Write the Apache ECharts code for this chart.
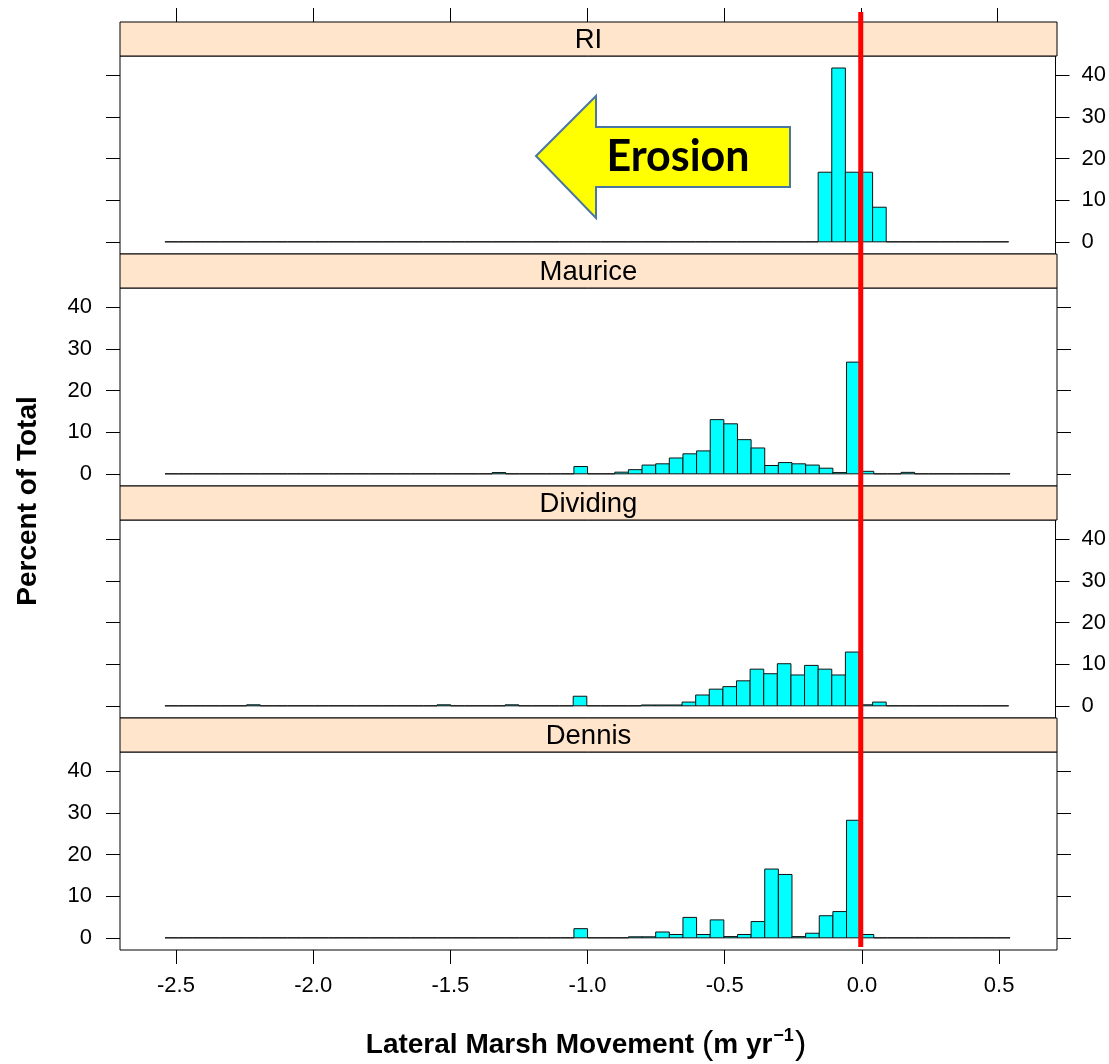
<!DOCTYPE html>
<html><head><meta charset="utf-8">
<script src="https://cdn.jsdelivr.net/npm/echarts@6/dist/echarts.min.js"></script>
<style>html,body{margin:0;padding:0;background:#fff}#c{width:1109px;height:1064px}</style>
</head><body><div id="c"></div>
<script>
// ---------------- data ----------------
const panelNames = ['RI', 'Maurice', 'Dividing', 'Dennis'];
// histogram breaks: 62 equal bins between breakMin and breakMax
const breakMin = -2.54;
const breakMax = 0.54;
const binCount = 62;
// percent of total in each bin (bin 0 .. bin 61)
const riPct = [
  0,0,0,0,0,0,0,0,0,0,
  0,0,0,0,0,0,0,0,0,0,
  0,0,0,0,0,0,0,0,0,0,
  0,0,0,0,0,0,0,0,0,0,
  0,0,0,0,0,0,0,0,16.7,41.7,
  16.7,16.7,8.3,0,0,0,0,0,0,0,
  0,0
];
const mauricePct = [
  0,0,0,0,0,0,0,0,0,0,
  0,0,0,0,0,0,0,0,0,0,
  0,0,0,0,0.3,0,0,0,0,0,
  1.75,0,0,0.4,1.0,2.1,2.4,3.8,4.8,5.5,
  13.0,12.0,8.2,6.2,2.0,2.7,2.4,2.1,1.35,0.3,
  26.8,0.6,0,0,0.35,0,0,0,0,0,
  0,0
];
const dividingPct = [
  0,0,0,0,0,0,0.25,0,0,0,
  0,0,0,0,0,0,0,0,0,0,
  0.25,0,0,0,0,0.25,0,0,0,0,
  2.3,0,0,0,0,0.2,0.2,0.2,0.9,2.6,
  4.0,4.6,6.0,8.8,7.7,10.1,7.4,9.7,8.8,7.4,
  12.9,0.25,0.9,0,0,0,0,0,0,0,
  0,0
];
const dennisPct = [
  0,0,0,0,0,0,0,0,0,0,
  0,0,0,0,0,0,0,0,0,0,
  0,0,0,0,0,0,0,0,0,0,
  2.2,0,0,0,0.25,0.25,1.4,0.8,4.9,0.8,
  4.3,0.3,0.8,3.9,16.5,15.2,0.3,1.1,5.3,6.3,
  28.2,0.8,0,0,0,0,0,0,0,0,
  0,0
];
const xTickValues = [-2.5, -2.0, -1.5, -1.0, -0.5, 0.0, 0.5];
const yTickValues = [0, 10, 20, 30, 40];
const xTitle = 'Lateral Marsh Movement';
const yTitle = 'Percent of Total';
const arrowLabel = 'Erosion';

// ---------------- layout ----------------
const X_MIN = -2.704, X_MAX = 0.711;
const Y_MIN = -2.92, Y_MAX = 44.58;
const L = 120, R = 1057, TOP = 22, PITCH = 232, STRIP = 34, PLOT = 198;
const FONT = "'Liberation Sans', Arial, sans-serif";
const TICKLEN = 14;

const allPct = [riPct, mauricePct, dividingPct, dennisPct];
const binW = (breakMax - breakMin) / binCount;

const grids = [], xAxes = [], yAxes = [], series = [];
const stripGraphics = [];

panelNames.forEach((name, i) => {
  const top = TOP + i * PITCH + STRIP;
  grids.push({ left: L, width: R - L, top: top, height: PLOT, show: true,
    borderColor: '#000', borderWidth: 1, backgroundColor: '#fff', containLabel: false });
  const isBottom = i === panelNames.length - 1;
  xAxes.push({
    type: 'value', gridIndex: i, min: X_MIN, max: X_MAX, position: 'bottom',
    axisLine: { show: false, onZero: false },
    axisTick: { show: isBottom, length: TICKLEN, inside: false, customValues: xTickValues,
      lineStyle: { color: '#000', width: 1 } },
    axisLabel: { show: isBottom, customValues: xTickValues, margin: 25,
      formatter: v => v.toFixed(1), fontFamily: FONT, fontSize: 22, color: '#000' },
    splitLine: { show: false }
  });
  const labelLeft = (i % 2 === 1);
  yAxes.push({
    type: 'value', gridIndex: i, min: Y_MIN, max: Y_MAX, position: 'left',
    axisLine: { show: false, onZero: false },
    axisTick: { show: true, length: TICKLEN, inside: false, customValues: yTickValues, lineStyle: { color: '#000' } },
    axisLabel: { show: labelLeft, customValues: yTickValues, margin: 28, fontFamily: FONT, fontSize: 22, color: '#000' },
    splitLine: { show: false }
  });
  yAxes.push({
    type: 'value', gridIndex: i, min: Y_MIN, max: Y_MAX, position: 'right',
    axisLine: { show: false, onZero: false },
    axisTick: { show: true, length: TICKLEN, inside: false, customValues: yTickValues, lineStyle: { color: '#000' } },
    axisLabel: { show: !labelLeft, customValues: yTickValues, margin: 26, fontFamily: FONT, fontSize: 22, color: '#000' },
    splitLine: { show: false }
  });
  const data = allPct[i].map((v, k) => [breakMin + k * binW, breakMin + (k + 1) * binW, v]);
  series.push({
    type: 'custom', xAxisIndex: i, yAxisIndex: i * 2, data: data, z: 5,
    encode: { x: [0, 1], y: 2 },
    renderItem: function (params, api) {
      const p0 = api.coord([api.value(0), api.value(2)]);
      const p1 = api.coord([api.value(1), 0]);
      return { type: 'rect',
        shape: { x: p0[0], y: p0[1], width: p1[0] - p0[0], height: p1[1] - p0[1] },
        style: { fill: '#00FFFF', stroke: '#111', lineWidth: 1 } };
    }
  });
  stripGraphics.push({ type: 'rect', z: 10,
    shape: { x: L, y: TOP + i * PITCH, width: R - L, height: STRIP },
    style: { fill: '#FFE5CC', stroke: '#000', lineWidth: 1 } });
  stripGraphics.push({ type: 'text', z: 11, x: (L + R) / 2, y: TOP + i * PITCH + STRIP / 2 + 1,
    style: { text: name, fontFamily: FONT, fontSize: 27.5, fill: '#000', align: 'center', verticalAlign: 'middle' } });
});
// top ticks above the first strip
xAxes.push({
  type: 'value', gridIndex: 0, min: X_MIN, max: X_MAX, position: 'top', offset: STRIP,
  axisLine: { show: false, onZero: false },
  axisTick: { show: true, length: TICKLEN, inside: false, customValues: xTickValues, lineStyle: { color: '#000' } },
  axisLabel: { show: false }, splitLine: { show: false }
});

const chart = echarts.init(document.getElementById('c'), null, { renderer: 'canvas' });
chart.setOption({
  backgroundColor: '#fff',
  animation: false,
  grid: grids, xAxis: xAxes, yAxis: yAxes, series: series
});

// annotations
const zeroX = chart.convertToPixel({ xAxisIndex: 0 }, 0);
const graphics = stripGraphics.slice();
graphics.push({ type: 'polygon', z: 20,
  shape: { points: [[536, 156], [596, 96], [596, 127], [790, 127], [790, 187], [596, 187], [596, 218]] },
  style: { fill: '#FFFF00', stroke: '#4A76A3', lineWidth: 2 } });
graphics.push({ type: 'text', z: 21, x: 678, y: 157,
  style: { text: arrowLabel, fontFamily: 'Lato, "Open Sans", sans-serif', fontWeight: 'bold', fontSize: 43,
    fill: '#000', align: 'center', verticalAlign: 'middle' } });
graphics.push({ type: 'line', z: 30,
  shape: { x1: zeroX, y1: 12, x2: zeroX, y2: 947 },
  style: { stroke: '#FF0000', lineWidth: 5 } });
graphics.push({ type: 'text', z: 21, x: 28, y: 501, rotation: Math.PI / 2,
  style: { text: yTitle, fontFamily: FONT, fontWeight: 'bold', fontSize: 28, fill: '#000',
    align: 'center', verticalAlign: 'middle' } });
graphics.push({ type: 'text', z: 21, x: 586, y: 1045,
  style: { text: '{b|' + xTitle + ' }{p|(}{b|m yr}{s|\u22121}{p|)}',
    align: 'center', verticalAlign: 'middle',
    rich: {
      b: { fontFamily: FONT, fontWeight: 'bold', fontSize: 28, fill: '#000' },
      p: { fontFamily: FONT, fontSize: 34, fill: '#000' },
      s: { fontFamily: FONT, fontWeight: 'bold', fontSize: 18, fill: '#000', padding: [0, 1, 18, 1] }
    } } });
chart.setOption({ graphic: graphics });
</script>
</body></html>
